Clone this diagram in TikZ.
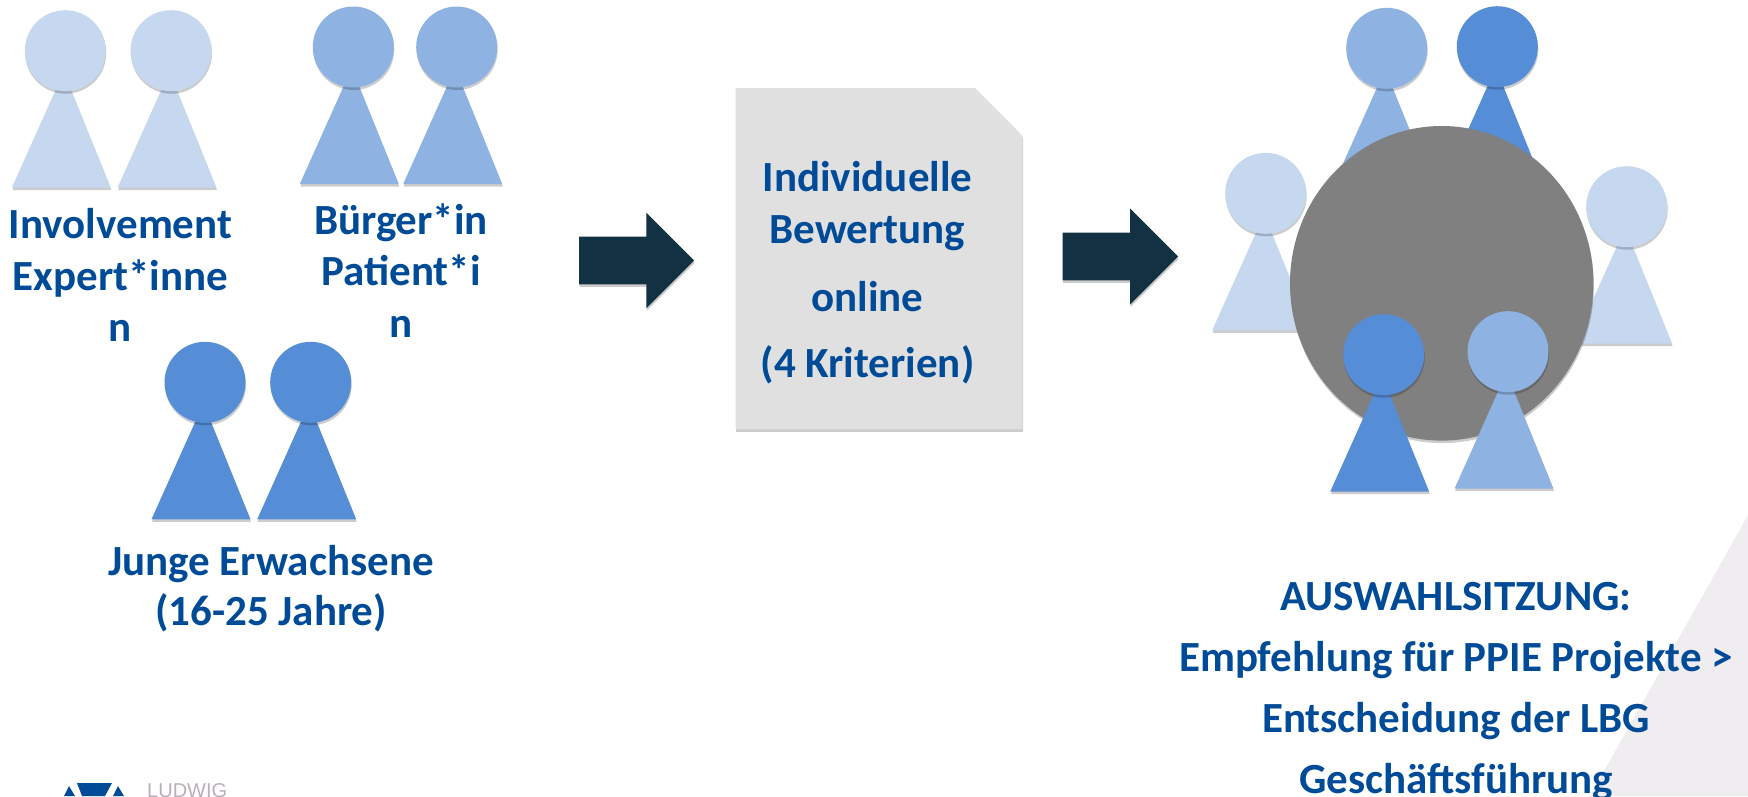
\documentclass[tikz,border=0pt]{standalone}
\usepackage{fontspec}
\setmainfont{Carlito}
\newfontfamily\logofont{Liberation Sans}
\usepackage{tikz}
\usetikzlibrary{shapes.geometric,shadows}
\definecolor{lbgblue}{RGB}{0,75,152}
\definecolor{lightp}{RGB}{197,216,240}
\definecolor{midp}{RGB}{142,178,226}
\definecolor{darkp}{RGB}{85,141,214}
\definecolor{arrowc}{RGB}{18,50,68}
\definecolor{wedge}{RGB}{239,237,240}
\definecolor{logogrey}{RGB}{184,176,184}

\begin{document}
\begin{tikzpicture}[x=1pt,y=-1pt,
    softshadow/.style={drop shadow={shadow xshift=0.5pt,shadow yshift=-2.5pt,opacity=0.2,fill=black}},
    head/.style={circle,inner sep=0pt,minimum size=81pt,softshadow},
    person/.pic={
        \fill[#1,softshadow] (-53.5,137) -- (-1.5,21) -- (45.5,137) -- cycle;
        \node[head,fill=#1] (-head) at (0,0) {};
    },
    lbl/.style={text=lbgblue,inner sep=0pt,align=center,anchor=base,font=\fontsize{43}{51.5}\selectfont\bfseries},
    bigarrow/.style={fill=arrowc,softshadow}]

    \useasboundingbox (0,0) rectangle (1748,796);

    % background wedge and logo
    \fill[wedge] (1748,515) -- (1590,796) -- (1748,796) -- cycle;
    \fill[lbgblue] (77,783) -- (112,783) -- (105,796) -- (82,796) -- cycle;
    \fill[lbgblue] (69,786) -- (75,796) -- (64,796) -- cycle;
    \fill[lbgblue] (118,786) -- (124,796) -- (113,796) -- cycle;
    \node[anchor=base west,inner sep=0pt,text=logogrey,font=\logofont\fontsize{20}{20}\selectfont] (logo) at (147,797.5) {LUDWIG};

    % left groups
    \pic (p1) at (65.3,50.7) {person=lightp};
    \pic (p2) at (171,50.7) {person=lightp};
    \pic (p3) at (353.3,47) {person=midp};
    \pic (p4) at (456.7,47) {person=midp};
    \pic (p5) at (205,382.3) {person=darkp};
    \pic (p6) at (310.7,382.3) {person=darkp};

    \node[lbl] (expert) at (120.5,341.7) {Involvement\\Expert*inne\\n};
    \node[lbl] (buerger) at (401,337) {Bürger*in\\Patient*i\\n};
    \node[lbl] (junge) at (271,625) {Junge Erwachsene\\[-1.5pt](16-25 Jahre)};

    % rating sheet
    \fill[black!12,softshadow] (735.7,88) -- (975,88) -- (1022.7,136) -- (1022.7,429.3) -- (735.7,429.3) -- cycle;
    \node[lbl] (rating) at (867.5,377.7) {Individuelle\\Bewertung\\[16.5pt]online\\[15.2pt](4 Kriterien)};

    \fill[bigarrow] (579,236.7) -- (646.3,236.7) -- (646.3,212.7) -- (694,260.5) -- (646.3,308.3) -- (646.3,284.3) -- (579,284.3) -- cycle;
    \fill[bigarrow] (1062.7,232.7) -- (1130,232.7) -- (1130,208.5) -- (1178,256.5) -- (1130,304.5) -- (1130,280.3) -- (1062.7,280.3) -- cycle;

    % meeting
    \pic (p7) at (1386.7,48.3) {person=midp};
    \pic (p8) at (1497.3,46.7) {person=darkp};
    \pic (p9) at (1265.7,193.3) {person=lightp};
    \pic (p10) at (1626.7,206.7) {person=lightp};
    \node[ellipse,fill=black!50,inner sep=0pt,minimum width=303.4pt,minimum height=314.6pt,softshadow] (table) at (1441.7,283.3) {};
    \pic (p11) at (1383.7,354.7) {person=darkp};
    \pic (p12) at (1508,351.7) {person=midp};

    \node[lbl,font=\fontsize{43}{61}\selectfont\bfseries] (meeting) at (1456,793) {AUSWAHLSITZUNG:\\Empfehlung für PPIE Projekte >\\Entscheidung der LBG\\Geschäftsführung};
\end{tikzpicture}
\end{document}
